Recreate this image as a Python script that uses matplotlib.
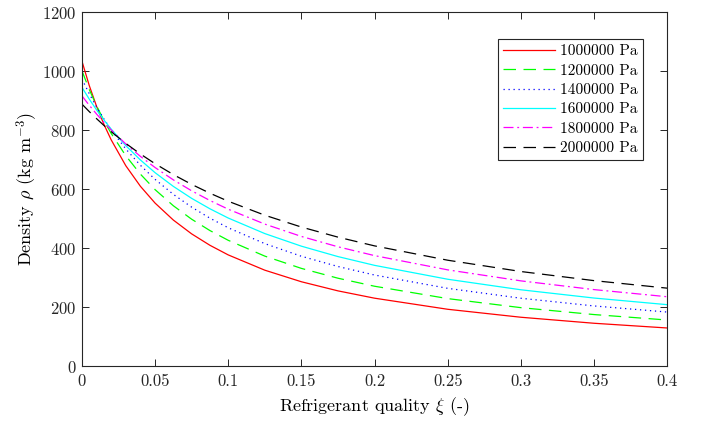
import matplotlib
matplotlib.use("Agg")
import matplotlib.pyplot as plt

# refrigerant quality (-)
quality = [0, 0.005, 0.01, 0.015, 0.02, 0.03, 0.04, 0.05, 0.0625, 0.075,
           0.0875, 0.1, 0.125, 0.15, 0.175, 0.2, 0.25, 0.3, 0.35, 0.4]

# density (kg/m3) per pressure
rho_1000000 = [1035, 952.2, 881.6, 820.7, 767.8, 680.0, 610.2, 553.4, 495.8,
               449.0, 410.3, 377.7, 325.9, 286.7, 255.8, 231.0, 193.4, 166.4,
               146.0, 130.0]
rho_1200000 = [1002, 938.8, 883.2, 833.7, 789.5, 713.9, 651.4, 599.0, 544.3,
               498.7, 460.2, 427.2, 373.6, 332.0, 298.7, 271.5, 229.6, 198.9,
               175.5, 157.0]
rho_1400000 = [974, 924.4, 879.6, 838.9, 801.9, 736.8, 681.4, 633.8, 582.9,
               539.6, 502.2, 469.7, 415.9, 373.1, 338.4, 309.5, 264.4, 230.8,
               204.7, 184.0]
rho_1600000 = [946, 906.0, 869.3, 835.5, 804.2, 748.1, 699.4, 656.5, 609.9,
               569.4, 534.0, 502.7, 450.0, 407.3, 372.0, 342.3, 295.2, 259.5,
               231.5, 209.0]
rho_1800000 = [917, 885.0, 855.3, 827.4, 801.3, 753.8, 711.6, 673.9, 632.0,
               595.0, 562.1, 532.6, 482.1, 440.3, 405.2, 375.3, 327.0, 289.7,
               260.1, 235.9]
rho_2000000 = [889, 863.6, 839.6, 816.8, 795.4, 755.6, 719.6, 686.8, 649.9,
               616.7, 586.8, 559.6, 512.2, 472.1, 437.9, 408.3, 359.7, 321.4,
               290.5, 265.0]

labels = ["1000000 Pa", "1200000 Pa", "1400000 Pa",
          "1600000 Pa", "1800000 Pa", "2000000 Pa"]
series = [rho_1000000, rho_1200000, rho_1400000,
          rho_1600000, rho_1800000, rho_2000000]
colors = ["#ff0000", "#00ff00", "#0000ff", "#00ffff", "#ff00ff", "#000000"]
styles = ["-", (0, (10, 6)), (0, (1, 3)), "-", (0, (8, 3, 1.5, 3)), (0, (10, 6))]

plt.rcParams["font.family"] = "serif"
plt.rcParams["font.serif"] = ["cmr10"]
plt.rcParams["mathtext.fontset"] = "cm"
plt.rcParams["axes.formatter.use_mathtext"] = True

fig = plt.figure(figsize=(7.06, 4.24), dpi=100)
ax = fig.add_axes([0.116, 0.136, 0.829, 0.835])

for rho, lab, col, ls in zip(series, labels, colors, styles):
    ax.plot(quality, rho, color=col, linestyle=ls, linewidth=0.9, label=lab)

ax.set_xlim(0, 0.4)
ax.set_ylim(0, 1200)
ax.set_xticks([0, 0.05, 0.1, 0.15, 0.2, 0.25, 0.3, 0.35, 0.4])
ax.set_xticklabels(["0", "0.05", "0.1", "0.15", "0.2", "0.25", "0.3", "0.35", "0.4"])
ax.set_yticks(range(0, 1201, 200))
ax.tick_params(direction="in", top=True, right=True, length=5, width=0.7,
               labelsize=12, colors="#262626")
ax.tick_params(axis="x", pad=5)
ax.tick_params(axis="y", pad=4)
for sp in ax.spines.values():
    sp.set_linewidth(0.8)
    sp.set_color("#262626")

ax.set_xlabel(r"Refrigerant quality $\xi$ (-)", fontsize=13, labelpad=5)
ax.set_ylabel(r"Density $\rho$ (kg m$^{-3}$)", fontsize=13, labelpad=1)

leg = ax.legend(loc="upper right", bbox_to_anchor=(0.959, 0.924), fontsize=11,
                handlelength=3.4, handletextpad=0.35, labelspacing=0.37,
                borderpad=0.35, borderaxespad=0, fancybox=False, framealpha=1)
leg.get_frame().set_edgecolor("#262626")
leg.get_frame().set_linewidth(0.8)

fig.savefig("out.png", dpi=100)
